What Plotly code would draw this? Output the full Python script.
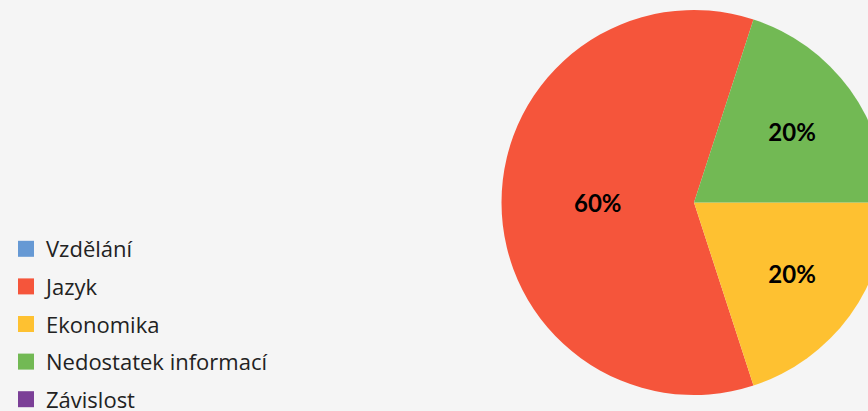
import plotly.graph_objects as go

categories = ["Vzdělání", "Jazyk", "Ekonomika", "Nedostatek informací", "Závislost"]
values = [0, 60, 20, 20, 0]
colors = ["#6699d4", "#f5553b", "#fec131", "#72b954", "#7b3f97"]

W, H = 900, 411

fig = go.Figure()

fig.add_trace(go.Pie(
    labels=categories,
    values=values,
    marker=dict(colors=colors, line=dict(width=0)),
    sort=False,
    direction="counterclockwise",
    rotation=18,
    textinfo="percent",
    textposition="inside",
    insidetextorientation="horizontal",
    textfont=dict(family="Lato", size=24, color="#000000", weight="bold"),
    showlegend=False,
    hoverinfo="label+percent",
    domain=dict(x=[501.5 / W, 886.5 / W], y=[16 / H, 401 / H]),
))

for i, (cat, col) in enumerate(zip(categories, colors)):
    fig.add_trace(go.Scatter(
        x=[None], y=[None], mode="markers", name=cat,
        marker=dict(symbol="square", size=16, color=col, line=dict(width=0)),
        legendgroup=cat, showlegend=True,
    ))

fig.update_layout(
    width=W, height=H,
    margin=dict(l=0, r=0, t=0, b=0, autoexpand=False),
    paper_bgcolor="#f5f5f5",
    plot_bgcolor="#f5f5f5",
    xaxis=dict(visible=False),
    yaxis=dict(visible=False),
    legend=dict(
        x=6 / W, y=-9 / H, xanchor="left", yanchor="bottom",
        font=dict(family="Open Sans", size=22, color="#222222"),
        tracegroupgap=6,
        bgcolor="rgba(0,0,0,0)",
    ),
)

fig.write_html("out.html", post_script="document.body.style.margin='0';document.body.style.overflow='hidden';document.documentElement.style.overflow='hidden';")
